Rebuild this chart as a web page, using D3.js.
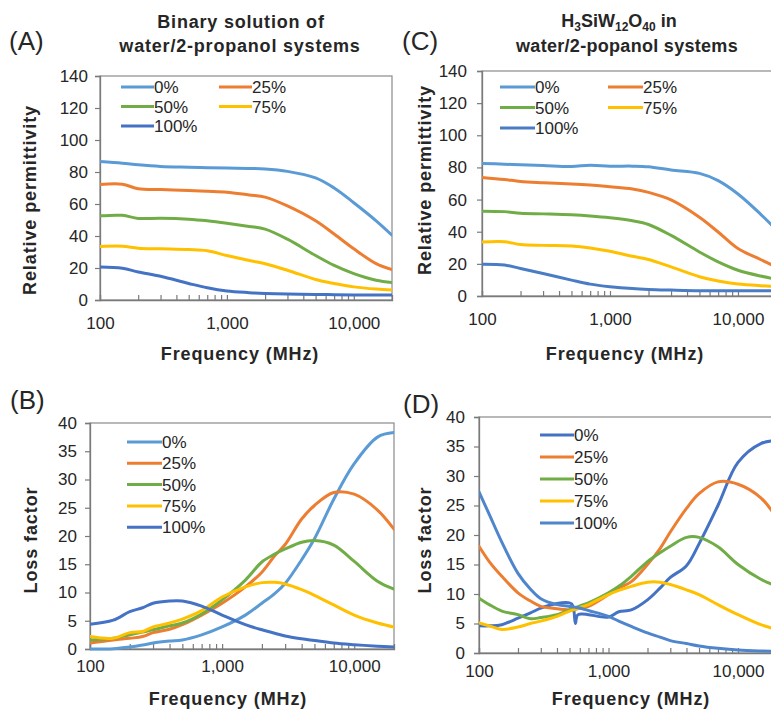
<!DOCTYPE html>
<html><head><meta charset="utf-8">
<script src="https://cdn.jsdelivr.net/npm/d3@7"></script>
<style>
body{margin:0;background:#fff}
svg{display:block}
text{font-family:"Liberation Sans",Arial,sans-serif;fill:#262626}
</style>
</head><body>
<svg id="chart" width="771" height="709"></svg>
<script>
// ---------- data ----------
const seriesNames = ["0%", "25%", "50%", "75%", "100%"];
const xTickValues = [100, 1000, 10000];
const xMinorTicks = [200,300,400,500,600,700,800,900,2000,3000,4000,5000,6000,7000,8000,9000];
const permTicks = [0, 20, 40, 60, 80, 100, 120, 140];
const lossTicks = [0, 5, 10, 15, 20, 25, 30, 35, 40];

// Panel A: binary solution, relative permittivity
const freqA = [100,150,200,300,500,700,1000,1500,2000,3000,5000,7000,10000,15000,20000];
const a0   = [86.5,85.5,84.5,83.5,83.0,82.7,82.5,82.2,81.9,80.4,76.3,70.0,60.8,49.5,40.5];
const a25  = [72.2,72.4,69.5,69.0,68.5,68.0,67.4,65.6,64.3,58.8,49.5,41.2,32.0,22.7,19.0];
const a50  = [52.6,52.9,51.0,51.1,50.5,49.5,48.0,46.0,44.3,38.0,27.8,21.6,16.5,12.4,11.0];
const a75  = [33.4,33.6,32.4,32.0,31.5,30.8,27.8,24.7,22.7,18.6,12.8,10.3,8.2,6.8,6.2];
const a100 = [20.6,19.8,17.5,14.8,10.3,7.6,5.6,4.6,4.1,3.7,3.5,3.3,3.1,3.1,3.1];

// Panel C: H3SiW12O40 solution, relative permittivity
const freqC = [100,150,200,300,500,700,1000,1500,2000,3000,5000,7000,10000,15000,20000];
const c0   = [82.5,82.0,81.6,81.2,80.6,81.4,80.8,80.8,80.4,78.4,76.3,71.8,63.5,51.0,41.0];
const c25  = [73.8,72.5,71.3,70.5,69.7,69.0,68.0,66.6,64.5,59.8,49.0,39.8,29.5,22.7,18.0];
const c50  = [52.8,52.5,51.5,51.1,50.5,49.8,48.7,46.8,44.5,37.7,27.4,21.2,16.0,12.4,10.5];
const c75  = [33.6,33.8,32.0,31.5,31.1,29.9,27.8,24.7,22.7,18.1,12.0,9.3,7.4,6.4,6.0];
const c100 = [19.8,19.3,17.1,14.0,9.9,7.4,5.8,4.6,4.1,3.7,3.3,3.3,3.3,3.3,3.3];

// Panel B: binary solution, loss factor
const freqB = [100,150,200,250,300,400,500,700,1000,1500,2000,2500,3000,4000,5000,7000,10000,15000,20000];
const b0   = [0.0,0.05,0.35,0.7,1.05,1.4,1.6,2.5,3.9,6.0,8.1,9.8,11.6,15.8,19.5,26.5,32.8,37.5,38.3];
const b25  = [1.05,1.6,1.9,2.2,2.9,3.5,4.3,6.0,8.1,11.0,13.6,16.5,18.5,23.0,25.4,27.7,27.4,24.6,21.2];
const b50  = [1.6,1.9,2.5,3.0,3.4,4.1,4.6,6.2,8.7,12.2,15.4,16.8,17.7,18.9,19.2,18.4,15.5,12.0,10.6];
const b75  = [2.2,1.9,2.9,3.1,3.9,4.6,5.3,6.8,9.2,11.0,11.75,11.8,11.5,10.5,9.5,7.8,6.0,4.6,3.9];
const b100 = [4.4,5.1,6.6,7.3,8.1,8.5,8.5,7.6,6.0,4.3,3.4,2.8,2.3,1.8,1.5,1.05,0.76,0.5,0.35];

// Panel D: H3SiW12O40 solution, loss factor
const freqD = [100,120,150,200,250,300,400,500,520,540,555,575,620,700,1000,1200,1500,2000,2500,3000,4000,5000,7000,10000,15000,20000];
const d0   = [4.6,4.6,4.8,5.9,6.8,7.6,8.4,8.5,8.3,7.2,5.0,6.4,6.6,6.5,6.1,7.0,7.3,9.0,11.0,12.8,14.8,18.5,25.0,32.3,35.5,36.0];
const d25  = [18.1,15.5,13.0,10.2,8.8,7.9,7.5,7.3,7.3,7.35,7.4,7.5,7.65,7.9,9.9,11.0,12.1,15.0,17.7,20.5,24.5,27.0,29.0,28.6,26.3,22.8];
const d50  = [9.3,8.2,7.1,6.5,5.8,6.0,6.5,7.3,7.45,7.55,7.65,7.8,8.1,8.5,10.2,11.3,13.0,15.5,17.0,18.1,19.6,19.6,18.0,15.0,12.5,11.3];
const d75  = [5.1,4.6,4.0,4.4,5.0,5.4,6.2,7.1,7.25,7.35,7.45,7.55,7.8,8.2,9.9,10.6,11.3,12.0,12.0,11.6,10.7,9.9,8.2,6.5,4.8,4.0];
const d100 = [27.3,23.5,18.8,13.5,10.8,9.2,8.2,7.9,7.85,7.8,7.75,7.7,7.55,7.2,6.2,5.4,4.5,3.4,2.7,2.1,1.6,1.2,0.8,0.5,0.35,0.3];

const colorsAB = ["#5B9BD5", "#ED7D31", "#70AD47", "#FFC000", "#4472C4"];
const colorsC  = ["#5B9BD5", "#ED7D31", "#70AD47", "#FFC000", "#4A7CC6"];
const colorsD  = ["#4472C4", "#ED7D31", "#70AD47", "#FFC000", "#4F85CC"];

// ---------- drawing ----------
const svg = d3.select("#chart");
const fmt = d3.format(",");

function drawPanel(p) {
  const x = d3.scaleLog().domain([100, 20000]).range([p.left, p.right]);
  const y = d3.scaleLinear().domain([0, p.ymax]).range([p.bottom, p.top]);
  const g = svg.append("g");
  const clipId = "clip" + p.id;
  g.append("clipPath").attr("id", clipId).append("rect")
    .attr("x", p.left).attr("y", p.top - 3)
    .attr("width", p.right - p.left).attr("height", p.bottom - p.top + 6);

  // plot border
  g.append("rect").attr("x", p.left).attr("y", p.top)
    .attr("width", p.right - p.left).attr("height", p.bottom - p.top)
    .attr("fill", "none").attr("stroke", "#8a8a8a").attr("stroke-width", 1.2);

  // y axis
  const yAxis = d3.axisLeft(y).tickValues(p.yTicks).tickSize(5).tickPadding(p.yPad);
  const ya = g.append("g").attr("transform", `translate(${p.left},0)`).call(yAxis);
  ya.select(".domain").attr("stroke", "#7a7a7a").attr("stroke-width", 1.3);
  ya.selectAll(".tick line").attr("stroke", "#7a7a7a").attr("stroke-width", 1.2);
  ya.selectAll(".tick text").attr("font-size", 17).attr("fill", "#262626")
    .attr("font-family", '"Liberation Sans",Arial,sans-serif');

  // x axis (ticks inside)
  const xAxis = d3.axisBottom(x).tickValues(xTickValues).tickSize(-5).tickPadding(0)
    .tickFormat(d => fmt(d));
  const xa = g.append("g").attr("transform", `translate(0,${p.bottom})`).call(xAxis);
  xa.select(".domain").attr("stroke", "#7a7a7a").attr("stroke-width", 1.3);
  xa.selectAll(".tick line").attr("stroke", "#7a7a7a").attr("stroke-width", 1.2);
  xa.selectAll(".tick text").attr("font-size", 17).attr("fill", "#262626")
    .attr("font-family", '"Liberation Sans",Arial,sans-serif')
    .attr("dy", null).attr("y", p.xLabelDy);
  const xm = d3.axisBottom(x).tickValues(xMinorTicks).tickSize(-5).tickFormat("");
  const xma = g.append("g").attr("transform", `translate(0,${p.bottom})`).call(xm);
  xma.select(".domain").remove();
  xma.selectAll(".tick line").attr("stroke", "#7a7a7a").attr("stroke-width", 1.2);

  // lines
  const line = d3.line().x(d => x(d[0])).y(d => y(d[1])).curve(d3.curveCatmullRom.alpha(0.5));
  const lg = g.append("g").attr("clip-path", `url(#${clipId})`);
  p.series.forEach((vals, i) => {
    const pts = p.freq.map((f, j) => [f, vals[j]]);
    lg.append("path").datum(pts).attr("d", line)
      .attr("fill", "none").attr("stroke", p.colors[i]).attr("stroke-width", 3)
      .attr("stroke-linejoin", "round").attr("stroke-linecap", "round");
  });

  // legend
  const leg = g.append("g");
  p.legend.forEach(([i, lx, ly]) => {
    leg.append("line").attr("x1", lx).attr("x2", lx + p.legLen).attr("y1", ly).attr("y2", ly)
      .attr("stroke", p.colors[i]).attr("stroke-width", 3);
    leg.append("text").attr("x", lx + p.legLen).attr("y", ly).attr("dy", "0.36em")
      .attr("font-size", 17).text(seriesNames[i]);
  });

  // axis titles
  g.append("text").attr("x", p.xTitle[0]).attr("y", p.xTitle[1])
    .attr("text-anchor", "middle").attr("font-size", 18).attr("font-weight", "bold")
    .attr("letter-spacing", "0.9px").text("Frequency (MHz)");
  g.append("text").attr("transform", `translate(${p.yTitle[0]},${p.yTitle[1]}) rotate(-90)`)
    .attr("text-anchor", "middle").attr("dy", "0.35em").attr("font-size", 18).attr("font-weight", "bold")
    .attr("letter-spacing", "0.9px").text(p.yTitleText);

  // panel letter
  g.append("text").attr("x", p.letter[0]).attr("y", p.letter[1])
    .attr("font-size", 26).text(p.letterText);
}

const legStd = (x1, x2, y0, dy) => [[0, x1, y0], [1, x2, y0], [2, x1, y0 + dy], [3, x2, y0 + dy], [4, x1, y0 + 2 * dy]];
const legCol = (x1, y0, dy) => [0, 1, 2, 3, 4].map(i => [i, x1, y0 + i * dy]);

drawPanel({
  id: "A", left: 100, right: 392, top: 76, bottom: 300, ymax: 140, yTicks: permTicks,
  freq: freqA, series: [a0, a25, a50, a75, a100], colors: colorsAB,
  yPad: 7, xLabelDy: 29, legLen: 33, legend: legStd(121, 219, 87, 19.5),
  xTitle: [240, 360], yTitle: [30, 200], yTitleText: "Relative permittivity",
  letter: [9, 50], letterText: "(A)"
});
drawPanel({
  id: "C", left: 482, right: 776.5, top: 71, bottom: 296, ymax: 140, yTicks: permTicks,
  freq: freqC, series: [c0, c25, c50, c75, c100], colors: colorsC,
  yPad: 10, xLabelDy: 29, legLen: 35, legend: legStd(500, 608, 87, 20.5),
  xTitle: [625, 360], yTitle: [425, 180], yTitleText: "Relative permittivity",
  letter: [402, 50], letterText: "(C)"
});
drawPanel({
  id: "B", left: 90, right: 394, top: 423, bottom: 649, ymax: 40, yTicks: lossTicks,
  freq: freqB, series: [b0, b25, b50, b75, b100], colors: colorsAB,
  yPad: 8, xLabelDy: 23, legLen: 35, legend: legCol(127, 442, 21.3),
  xTitle: [228, 705], yTitle: [31, 540], yTitleText: "Loss factor",
  letter: [10, 409], letterText: "(B)"
});
drawPanel({
  id: "D", left: 479, right: 777, top: 417, bottom: 653, ymax: 40, yTicks: lossTicks,
  freq: freqD, series: [d0, d25, d50, d75, d100], colors: colorsD,
  yPad: 9, xLabelDy: 24, legLen: 34, legend: legCol(540, 435, 22),
  xTitle: [631, 705], yTitle: [425, 540], yTitleText: "Loss factor",
  letter: [403, 413], letterText: "(D)"
});

// chart titles
function title(lines) {
  lines.forEach(([txt, cx, cy]) => {
    svg.append("text").attr("x", cx).attr("y", cy).attr("text-anchor", "middle")
      .attr("font-size", 18).attr("font-weight", "bold").attr("letter-spacing", "0.8px").text(txt);
  });
}
title([["Binary solution of", 241, 28], ["water/2-propanol systems", 240, 52]]);

const tC = svg.append("text").attr("x", 619).attr("y", 27).attr("text-anchor", "middle")
  .attr("font-size", 18).attr("font-weight", "bold");
const titleCParts = [["H", 0], ["3", 1], ["SiW", 0], ["12", 1], ["O", 0], ["40", 1], [" in", 0]];
titleCParts.forEach(([t, sub]) => {
  const ts = tC.append("tspan").text(t);
  if (sub) ts.attr("font-size", 12).attr("baseline-shift", "-4");
});
svg.append("text").attr("x", 627).attr("y", 52).attr("text-anchor", "middle")
  .attr("font-size", 18).attr("font-weight", "bold").attr("letter-spacing", "0.3px")
  .text("water/2-popanol systems");
</script>
</body></html>
